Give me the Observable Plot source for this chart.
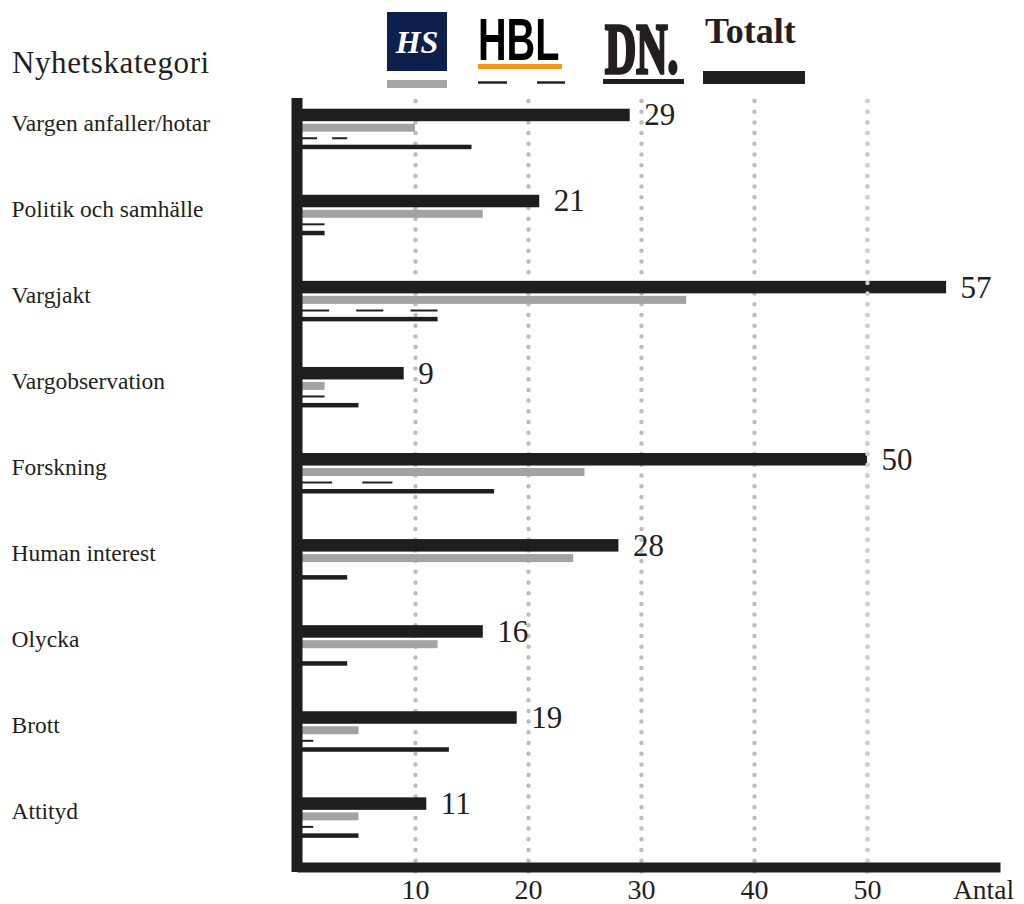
<!DOCTYPE html>
<html>
<head>
<meta charset="utf-8">
<script src="https://cdn.jsdelivr.net/npm/d3@7"></script>
<script src="https://cdn.jsdelivr.net/npm/@observablehq/plot@0.6"></script>
<style>
  html, body { margin: 0; padding: 0; background: #fff; }
  #wrap { position: relative; width: 1024px; height: 904px; overflow: hidden; }
  #overlay { position: absolute; left: 0; top: 0; pointer-events: none; }
</style>
</head>
<body>
<div id="wrap"></div>
<script>
// ---- data ----
const categories = ["Vargen anfaller/hotar", "Politik och samhälle", "Vargjakt", "Vargobservation", "Forskning", "Human interest", "Olycka", "Brott", "Attityd"];
const totalt = [29, 21, 57, 9, 50, 28, 16, 19, 11];
const hs     = [10, 16, 34, 2, 25, 24, 12, 5, 5];
const hbl    = [4, 2, 12, 2, 8, 0, 0, 1, 1];
const dn     = [15, 2, 12, 5, 17, 4, 4, 13, 5];
const xTicks = [10, 20, 30, 40, 50];
const seriesNames = ["HS", "HBL", "DN.", "Totalt"];
const yTitle = "Nyhetskategori";
const xTitle = "Antal";

// ---- layout ----
const W = 1024, H = 904;
const ML = 302, MR = 29, MT = 98, MB = 32;
const XMAX = 61.33;
const BAND0 = 81.7, BANDSTEP = 86.08;
const pxPerUnit = (W - ML - MR) / XMAX;
const serif = "'Liberation Serif', 'Times New Roman', serif";
const ink = "#1e1e1e";

const rows = categories.map((c, i) => ({category: c, totalt: totalt[i], hs: hs[i], hbl: hbl[i], dn: dn[i]}));

const hblMarks = rows.filter(r => r.hbl > 0).map(r => {
  const n = r.hbl <= 2 ? 1 : r.hbl <= 8 ? 2 : 3;
  const seg = r.hbl * pxPerUnit / (2 * n - 1);
  return Plot.ruleY([r], {y: "category", x1: 0, x2: "hbl", dy: 13, stroke: "#222", strokeWidth: 2, strokeDasharray: `${seg} ${seg}`});
});

const chart = Plot.plot({
  width: W, height: H,
  marginLeft: ML, marginRight: MR, marginTop: MT, marginBottom: MB,
  style: {background: "#fff", color: ink, fontFamily: serif},
  x: {domain: [0, XMAX]},
  y: {type: "band", domain: categories, range: [BAND0, BAND0 + BANDSTEP * categories.length], padding: 0, round: false},
  marks: [
    Plot.ruleX(xTicks, {stroke: "#bdbdbd", strokeWidth: 4.5, strokeDasharray: "0 10.7", strokeLinecap: "round", strokeDashoffset: 7.7}),
    Plot.barX(rows, {y: "category", x: "totalt", fill: ink, insetTop: 27, insetBottom: BANDSTEP - 27 - 12.5}),
    Plot.barX(rows, {y: "category", x: "hs", fill: "#a3a3a3", insetTop: 42, insetBottom: BANDSTEP - 42 - 8}),
    ...hblMarks,
    Plot.barX(rows.filter(r => r.dn > 0), {y: "category", x: "dn", fill: ink, insetTop: 63, insetBottom: BANDSTEP - 63 - 4.5}),
    Plot.ruleX(xTicks.filter(t => t === 50), {stroke: "#d0d0d0", strokeWidth: 4.5, strokeDasharray: "0 10.7", strokeLinecap: "round", strokeDashoffset: 7.7}),
    Plot.text(rows, {x: "totalt", y: "category", text: d => String(d.totalt), dx: 14, dy: -9.8, textAnchor: "start", fontSize: 31, fontFamily: serif, fill: "#231f20"}),
    Plot.ruleX([0], {stroke: ink, strokeWidth: 11, dx: -5.5}),
    Plot.frame({anchor: "bottom", stroke: ink, strokeWidth: 10, dy: -5}),
    Plot.axisX(xTicks, {tickSize: 0, tickPadding: 7, fontSize: 28, fontFamily: serif, fill: "#231f20", label: null}),
    Plot.axisY({tickSize: 0, textAnchor: "start", dx: -282, dy: -2, fontSize: 23.5, fontFamily: serif, fill: "#231f20", label: null})
  ]
});
const wrap = document.getElementById("wrap");
wrap.appendChild(chart);

// ---- legend & titles overlay ----
const ns = "http://www.w3.org/2000/svg";
const ov = document.createElementNS(ns, "svg");
ov.setAttribute("id", "overlay");
ov.setAttribute("width", W); ov.setAttribute("height", H);
function el(tag, attrs, txt) {
  const e = document.createElementNS(ns, tag);
  for (const k in attrs) e.setAttribute(k, attrs[k]);
  if (txt != null) e.textContent = txt;
  ov.appendChild(e);
  return e;
}
el("text", {x: 12, y: 73, "font-size": 31, "font-family": serif, fill: "#231f20", "letter-spacing": 0.6}, yTitle);
// HS
el("rect", {x: 387, y: 12, width: 60, height: 59, fill: "#0d1f4c"});
el("text", {x: 417, y: 53, "text-anchor": "middle", fill: "#fff", "font-size": 32, "font-style": "italic", "font-weight": "bold", "font-family": serif}, seriesNames[0]);
el("rect", {x: 387, y: 80, width: 60, height: 8, fill: "#a6a6a6"});
// HBL
el("text", {transform: "translate(478,60) scale(0.66,1)", "font-size": 60, "font-weight": "bold", "font-family": "'Liberation Sans', Arial, sans-serif", fill: "#000"}, seriesNames[1]);
el("rect", {x: 478, y: 64, width: 84, height: 5, fill: "#f7941d"});
el("line", {x1: 478, x2: 565, y1: 82.5, y2: 82.5, stroke: "#222", "stroke-width": 2.5, "stroke-dasharray": "29 30"});
// DN
el("text", {transform: "translate(605,73) scale(0.6,1)", "font-size": 72, "font-weight": "bold", "font-family": serif, fill: "#231f20", stroke: "#231f20", "stroke-width": 3.5}, seriesNames[2]);
el("rect", {x: 603, y: 79, width: 81, height: 5, fill: ink});
// Totalt
el("text", {x: 705, y: 43, "font-size": 36, "font-weight": "bold", "font-family": serif, fill: "#231f20"}, seriesNames[3]);
el("rect", {x: 703, y: 71, width: 102, height: 13, fill: ink});
// x title
el("text", {x: 953, y: 899, "font-size": 27.5, "font-family": serif, fill: "#231f20"}, xTitle);
wrap.appendChild(ov);
</script>
</body>
</html>
